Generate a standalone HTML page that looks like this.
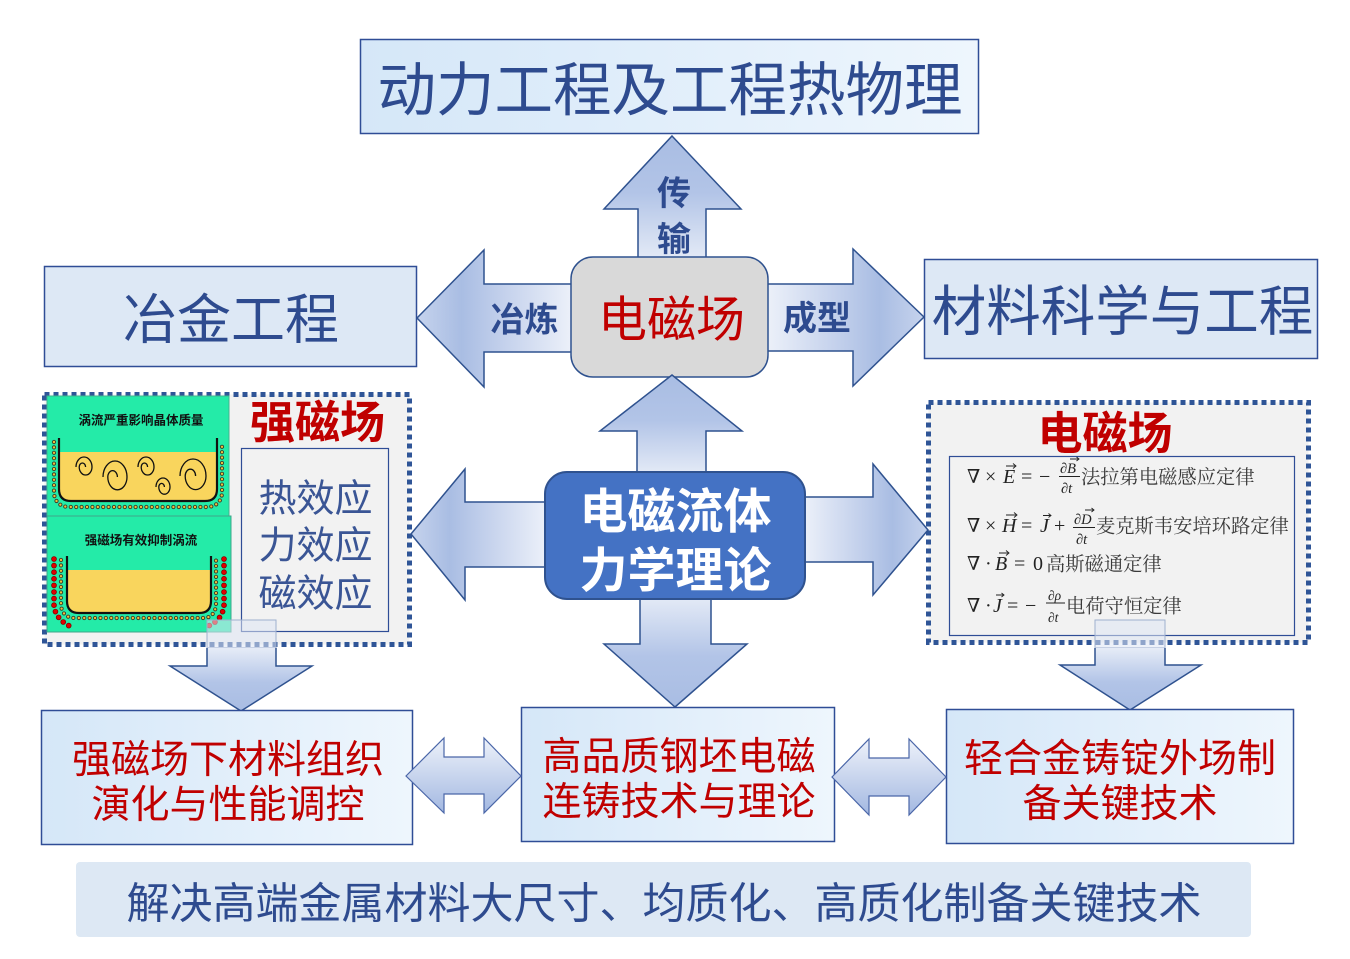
<!DOCTYPE html>
<html><head><meta charset="utf-8">
<style>
html,body{margin:0;padding:0;background:#fff;}
svg{display:block;}
</style></head><body>
<svg width="1350" height="959" viewBox="0 0 1350 959" xmlns="http://www.w3.org/2000/svg">
<defs>
<linearGradient id="boxg" x1="0" y1="0" x2="1" y2="0">
 <stop offset="0" stop-color="#d5e7f8"/><stop offset="1" stop-color="#eef6fd"/>
</linearGradient>
<linearGradient id="gL" x1="0" y1="0" x2="1" y2="0">
 <stop offset="0" stop-color="#c6d3ed"/><stop offset="0.28" stop-color="#a9bde3"/><stop offset="0.55" stop-color="#c4d1ec"/><stop offset="1" stop-color="#eef2fa"/>
</linearGradient>
<linearGradient id="gR" x1="1" y1="0" x2="0" y2="0">
 <stop offset="0" stop-color="#c6d3ed"/><stop offset="0.28" stop-color="#a9bde3"/><stop offset="0.55" stop-color="#c4d1ec"/><stop offset="1" stop-color="#eef2fa"/>
</linearGradient>
<linearGradient id="gU" x1="0" y1="0" x2="0" y2="1">
 <stop offset="0" stop-color="#a9bde3"/><stop offset="0.45" stop-color="#b2c4e7"/><stop offset="1" stop-color="#e6ecf7"/>
</linearGradient>
<linearGradient id="gD" x1="0" y1="1" x2="0" y2="0">
 <stop offset="0" stop-color="#a9bde3"/><stop offset="0.45" stop-color="#b2c4e7"/><stop offset="1" stop-color="#e6ecf7"/>
</linearGradient>
<linearGradient id="gDD" x1="0" y1="0" x2="0" y2="1">
 <stop offset="0" stop-color="#eef2fa"/><stop offset="1" stop-color="#a3b8e1"/>
</linearGradient>
</defs>

<!-- Top title -->
<rect x="360.5" y="39.5" width="618" height="94" fill="url(#boxg)" stroke="#2f4d96" stroke-width="1.5"/>
<text x="670" y="110.5" text-anchor="middle" font-family="Liberation Sans, Noto Sans CJK SC, sans-serif" font-size="58.5" fill="#2e4b8f">动力工程及工程热物理</text>

<!-- side top boxes -->
<rect x="44.5" y="266.5" width="372" height="100" fill="#dde8f5" stroke="#2f4d96" stroke-width="1.5"/>
<text x="231" y="338.5" text-anchor="middle" font-family="Liberation Sans, Noto Sans CJK SC, sans-serif" font-size="54" fill="#2e4b8f">冶金工程</text>
<rect x="924.5" y="259.5" width="393" height="99" fill="#dde8f5" stroke="#2f4d96" stroke-width="1.5"/>
<text x="1122.5" y="330.7" text-anchor="middle" font-family="Liberation Sans, Noto Sans CJK SC, sans-serif" font-size="54.5" fill="#2e4b8f">材料科学与工程</text>

<!-- top cluster arrows -->
<polygon points="672,136 741,209 706,209 706,262 638,262 638,209 604,209" fill="url(#gU)" stroke="#2f528f" stroke-width="1.5"/>
<polygon points="417,318 484,250 484,284 575,284 575,352 484,352 484,387" fill="url(#gL)" stroke="#2f528f" stroke-width="1.5"/>
<polygon points="924,317 853,249 853,284 764,284 764,351 853,351 853,386" fill="url(#gR)" stroke="#2f528f" stroke-width="1.5"/>
<rect x="571" y="257" width="197" height="120" rx="22" fill="#d9d9d9" stroke="#2f528f" stroke-width="1.5"/>
<text x="671.5" y="336.6" text-anchor="middle" font-family="Liberation Sans, Noto Sans CJK SC, sans-serif" font-size="49" fill="#c00000">电磁场</text>
<g font-family="Liberation Sans, Noto Sans CJK SC, sans-serif" font-size="34" font-weight="bold" fill="#2e4b8f" text-anchor="middle">
<text x="674" y="205">传</text>
<text x="674" y="251">输</text>
<text x="524.5" y="331.4">冶炼</text>
<text x="817" y="330">成型</text>
</g>

<!-- Left panel -->
<rect x="44.5" y="394.5" width="365" height="250" fill="#f2f2f2" stroke="#2f5597" stroke-width="5" stroke-dasharray="5 4"/>
<!-- green image -->
<rect x="47" y="396" width="182" height="120" fill="#24eba8" stroke="#3fb58e" stroke-width="1"/>
<rect x="47" y="516" width="184" height="116" fill="#24eba8" stroke="#3fa58a" stroke-width="1"/>
<g font-family="Liberation Sans, Noto Sans CJK SC, sans-serif" font-size="12.5" font-weight="bold" fill="#111" text-anchor="middle">
<text x="141" y="424.5">涡流严重影响晶体质量</text>
<text x="141" y="544.5">强磁场有效抑制涡流</text>
</g>
<!-- top crucible -->
<path d="M59,452 V489 Q59,501 71,501 H205 Q217,501 217,489 V452 Z" fill="#f9d55d"/>
<path d="M59,438 V489 Q59,501 71,501 H205 Q217,501 217,489 V438" fill="none" stroke="#111" stroke-width="2.2"/>
<path d="M54,442 V494 Q56,507 70,507 H206 Q220,507 222,494 V442" fill="none" stroke="#3a3a2a" stroke-width="4.2" stroke-linecap="round" stroke-dasharray="0 5.4"/>
<path d="M54,442 V494 Q56,507 70,507 H206 Q220,507 222,494 V442" fill="none" stroke="#f0c23a" stroke-width="2.4" stroke-linecap="round" stroke-dasharray="0 5.4"/>
<!-- swirls -->
<g fill="none" stroke="#111" stroke-width="1.3">
<path vector-effect="non-scaling-stroke" transform="translate(84,467) scale(8,10)" d="M0.2,0 A0.4,0.4 0 0 0 -0.6,0 A0.8,0.8 0 0 0 1,0 A1,1 0 0 0 -1,0"/>
<path vector-effect="non-scaling-stroke" transform="translate(115,477) scale(12,16)" d="M0.2,0 A0.4,0.4 0 0 0 -0.6,0 A0.8,0.8 0 0 0 1,0 A1,1 0 0 0 -1,0"/>
<path vector-effect="non-scaling-stroke" transform="translate(146,467) scale(8,10)" d="M0.2,0 A0.4,0.4 0 0 0 -0.6,0 A0.8,0.8 0 0 0 1,0 A1,1 0 0 0 -1,0"/>
<path vector-effect="non-scaling-stroke" transform="translate(163,487) scale(7,9)" d="M0.2,0 A0.4,0.4 0 0 0 -0.6,0 A0.8,0.8 0 0 0 1,0 A1,1 0 0 0 -1,0"/>
<path vector-effect="non-scaling-stroke" transform="translate(193,476) scale(13,17)" d="M0.2,0 A0.4,0.4 0 0 0 -0.6,0 A0.8,0.8 0 0 0 1,0 A1,1 0 0 0 -1,0"/>
</g>
<!-- bottom crucible -->
<path d="M67,570 V601 Q67,613 79,613 H199 Q211,613 211,601 V570 Z" fill="#f9d55d"/>
<path d="M67,556 V601 Q67,613 79,613 H199 Q211,613 211,601 V556" fill="none" stroke="#111" stroke-width="2.2"/>
<path d="M61,560 V606 Q63,618 75,618 H203 Q214,618 216,606 V560" fill="none" stroke="#3a3a2a" stroke-width="4.2" stroke-linecap="round" stroke-dasharray="0 5.4"/>
<path d="M61,560 V606 Q63,618 75,618 H203 Q214,618 216,606 V560" fill="none" stroke="#f0c23a" stroke-width="2.4" stroke-linecap="round" stroke-dasharray="0 5.4"/>
<path d="M54,559 V606 Q56,621 74,628" fill="none" stroke="#700" stroke-width="5.6" stroke-linecap="round" stroke-dasharray="0 6.6"/>
<path d="M54,559 V606 Q56,621 74,628" fill="none" stroke="#e00000" stroke-width="4.2" stroke-linecap="round" stroke-dasharray="0 6.6"/>
<path d="M224,559 V606 Q222,621 206,627" fill="none" stroke="#700" stroke-width="5.6" stroke-linecap="round" stroke-dasharray="0 6.6"/>
<path d="M224,559 V606 Q222,621 206,627" fill="none" stroke="#e00000" stroke-width="4.2" stroke-linecap="round" stroke-dasharray="0 6.6"/>

<text x="317.5" y="438" text-anchor="middle" font-family="Liberation Sans, Noto Sans CJK SC, sans-serif" font-size="45" font-weight="bold" fill="#c00000">强磁场</text>
<rect x="241.5" y="448.5" width="147" height="183" fill="#f2f2f2" stroke="#2f4d96" stroke-width="1.2"/>
<g font-family="Liberation Sans, Noto Sans CJK SC, sans-serif" font-size="38" fill="#3a5595" text-anchor="middle">
<text x="315.5" y="511.4">热效应</text>
<text x="315.5" y="558.4">力效应</text>
<text x="315.5" y="606.4">磁效应</text>
</g>

<!-- Right panel -->
<rect x="928.5" y="402.5" width="380" height="240" fill="#f2f2f2" stroke="#2f5597" stroke-width="5" stroke-dasharray="5 4"/>
<text x="1105" y="449" text-anchor="middle" font-family="Liberation Sans, Noto Sans CJK SC, sans-serif" font-size="45" font-weight="bold" fill="#c00000">电磁场</text>
<rect x="949.5" y="456.5" width="345" height="179" fill="#f2f2f2" stroke="#2f4d96" stroke-width="1.2"/>
<g font-family="Liberation Serif, DejaVu Serif, serif" fill="#222">
 <!-- line 1 -->
 <text x="967" y="483" font-size="19" font-style="italic">∇</text>
 <text x="985" y="483" font-size="20">×</text>
 <text x="1003" y="483" font-size="20" font-style="italic">E</text>
 <text x="1021" y="483" font-size="20">=</text>
 <text x="1039" y="483" font-size="20">−</text>
 <text x="1060" y="473" font-size="14.5" font-style="italic">∂B</text>
 <line x1="1059" y1="476.5" x2="1080" y2="476.5" stroke="#222" stroke-width="0.9"/>
 <text x="1061" y="493" font-size="14.5" font-style="italic">∂t</text>
 <!-- line 2 -->
 <text x="967" y="532" font-size="19" font-style="italic">∇</text>
 <text x="985" y="532" font-size="20">×</text>
 <text x="1002" y="532" font-size="20" font-style="italic">H</text>
 <text x="1021" y="532" font-size="20">=</text>
 <text x="1040" y="532" font-size="20" font-style="italic">J</text>
 <text x="1054" y="532" font-size="20">+</text>
 <text x="1074" y="524" font-size="14.5" font-style="italic">∂D</text>
 <line x1="1073" y1="527.5" x2="1095" y2="527.5" stroke="#222" stroke-width="0.9"/>
 <text x="1076" y="544" font-size="14.5" font-style="italic">∂t</text>
 <!-- line 3 -->
 <text x="967" y="570" font-size="19" font-style="italic">∇</text>
 <text x="985" y="570" font-size="20">·</text>
 <text x="995" y="570" font-size="20" font-style="italic">B</text>
 <text x="1014" y="570" font-size="20">=</text>
 <text x="1033" y="570" font-size="20">0</text>
 <!-- line 4 -->
 <text x="967" y="612" font-size="19" font-style="italic">∇</text>
 <text x="985" y="612" font-size="20">·</text>
 <text x="993" y="612" font-size="20" font-style="italic">J</text>
 <text x="1007" y="612" font-size="20">=</text>
 <text x="1025" y="612" font-size="20">−</text>
 <text x="1048" y="600" font-size="13.5" font-style="italic">∂ρ</text>
 <line x1="1046" y1="603" x2="1065" y2="603" stroke="#222" stroke-width="0.9"/>
 <text x="1048" y="622" font-size="13.5" font-style="italic">∂t</text>
</g>
<!-- vector arrows -->
<g stroke="#222" stroke-width="0.9" fill="none">
 <path d="M1006,466 H1016 M1013,463.5 L1016,466 L1013,468.5"/>
 <path d="M1070,459 H1079 M1076.5,457 L1079,459 L1076.5,461"/>
 <path d="M1006,515 H1017 M1014,512.5 L1017,515 L1014,517.5"/>
 <path d="M1043,515.5 H1051 M1048.5,513.5 L1051,515.5 L1048.5,517.5"/>
 <path d="M1085,510 H1094 M1091.5,508 L1094,510 L1091.5,512"/>
 <path d="M999,553 H1009 M1006,550.5 L1009,553 L1006,555.5"/>
 <path d="M996,595 H1004 M1001.5,593 L1004,595 L1001.5,597"/>
</g>
<g font-family="Liberation Serif, Noto Serif CJK SC, serif" font-size="19.3" fill="#3a3a3a">
 <text x="1081" y="483.3">法拉第电磁感应定律</text>
 <text x="1096" y="532.3">麦克斯韦安培环路定律</text>
 <text x="1046" y="570.3">高斯磁通定律</text>
 <text x="1066" y="612.3">电荷守恒定律</text>
</g>

<!-- center bottom cluster -->
<polygon points="672,375 742,431 706,431 706,476 637,476 637,431 600,431" fill="url(#gU)" stroke="#2f528f" stroke-width="1.5"/>
<polygon points="411,534 465,469 465,502 549,502 549,567 465,567 465,600" fill="url(#gL)" stroke="#2f528f" stroke-width="1.5"/>
<polygon points="928,530 873,464 873,497 801,497 801,562 873,562 873,595" fill="url(#gR)" stroke="#2f528f" stroke-width="1.5"/>
<polygon points="675,707 747,644 711,644 711,595 640,595 640,644 604,644" fill="url(#gD)" stroke="#2f528f" stroke-width="1.5"/>
<rect x="545" y="472" width="260" height="127" rx="22" fill="#4472c4" stroke="#2f528f" stroke-width="2"/>
<g font-family="Liberation Sans, Noto Sans CJK SC, sans-serif" font-size="48" font-weight="bold" fill="#ffffff" text-anchor="middle">
<text x="675.5" y="528">电磁流体</text>
<text x="675.5" y="587">力学理论</text>
</g>

<!-- panel down arrows -->
<rect x="207" y="620" width="69" height="28" fill="#dfe6f4" fill-opacity="0.55" stroke="#9fb0cf" stroke-width="1"/>
<polygon points="241,711 312,666 276,666 276,648 207,648 207,666 170,666" fill="url(#gD)"/>
<path d="M207,648 V666 H170 L241,711 L312,666 H276 V648" fill="none" stroke="#2f528f" stroke-width="1.5"/>
<rect x="1095" y="620" width="70" height="28" fill="#dfe6f4" fill-opacity="0.55" stroke="#9fb0cf" stroke-width="1"/>
<polygon points="1130,710 1201,665 1165,665 1165,648 1095,648 1095,665 1060,665" fill="url(#gD)"/>
<path d="M1095,648 V665 H1060 L1130,710 L1201,665 H1165 V648" fill="none" stroke="#2f528f" stroke-width="1.5"/>

<!-- bottom boxes -->
<rect x="41.5" y="710.5" width="371" height="134" fill="url(#boxg)" stroke="#2f4d96" stroke-width="1.5"/>
<rect x="521.5" y="707.5" width="313" height="134" fill="url(#boxg)" stroke="#2f4d96" stroke-width="1.5"/>
<rect x="946.5" y="709.5" width="347" height="134" fill="url(#boxg)" stroke="#2f4d96" stroke-width="1.5"/>
<g font-family="Liberation Sans, Noto Sans CJK SC, sans-serif" font-size="39" fill="#c00000" text-anchor="middle">
<text x="228" y="772.8">强磁场下材料组织</text>
<text x="228" y="817.8">演化与性能调控</text>
<text x="679" y="769.8">高品质钢坯电磁</text>
<text x="679" y="814.8">连铸技术与理论</text>
<text x="1120" y="771.8">轻合金铸锭外场制</text>
<text x="1120" y="816.8">备关键技术</text>
</g>

<!-- bottom double arrows -->
<polygon points="406,776 444,738 444,757 484,757 484,738 521,776 484,813 484,794 444,794 444,813" fill="url(#gDD)" stroke="#4a66a8" stroke-width="1.2"/>
<polygon points="832,777 869,739 869,758 909,758 909,739 946,777 909,815 909,796 869,796 869,815" fill="url(#gDD)" stroke="#4a66a8" stroke-width="1.2"/>

<!-- banner -->
<rect x="76" y="862" width="1175" height="75" rx="4" fill="#dde8f4"/>
<text x="664" y="918.3" text-anchor="middle" font-family="Liberation Sans, Noto Sans CJK SC, sans-serif" font-size="43" fill="#2e4b8f">解决高端金属材料大尺寸、均质化、高质化制备关键技术</text>
</svg>
</body></html>
